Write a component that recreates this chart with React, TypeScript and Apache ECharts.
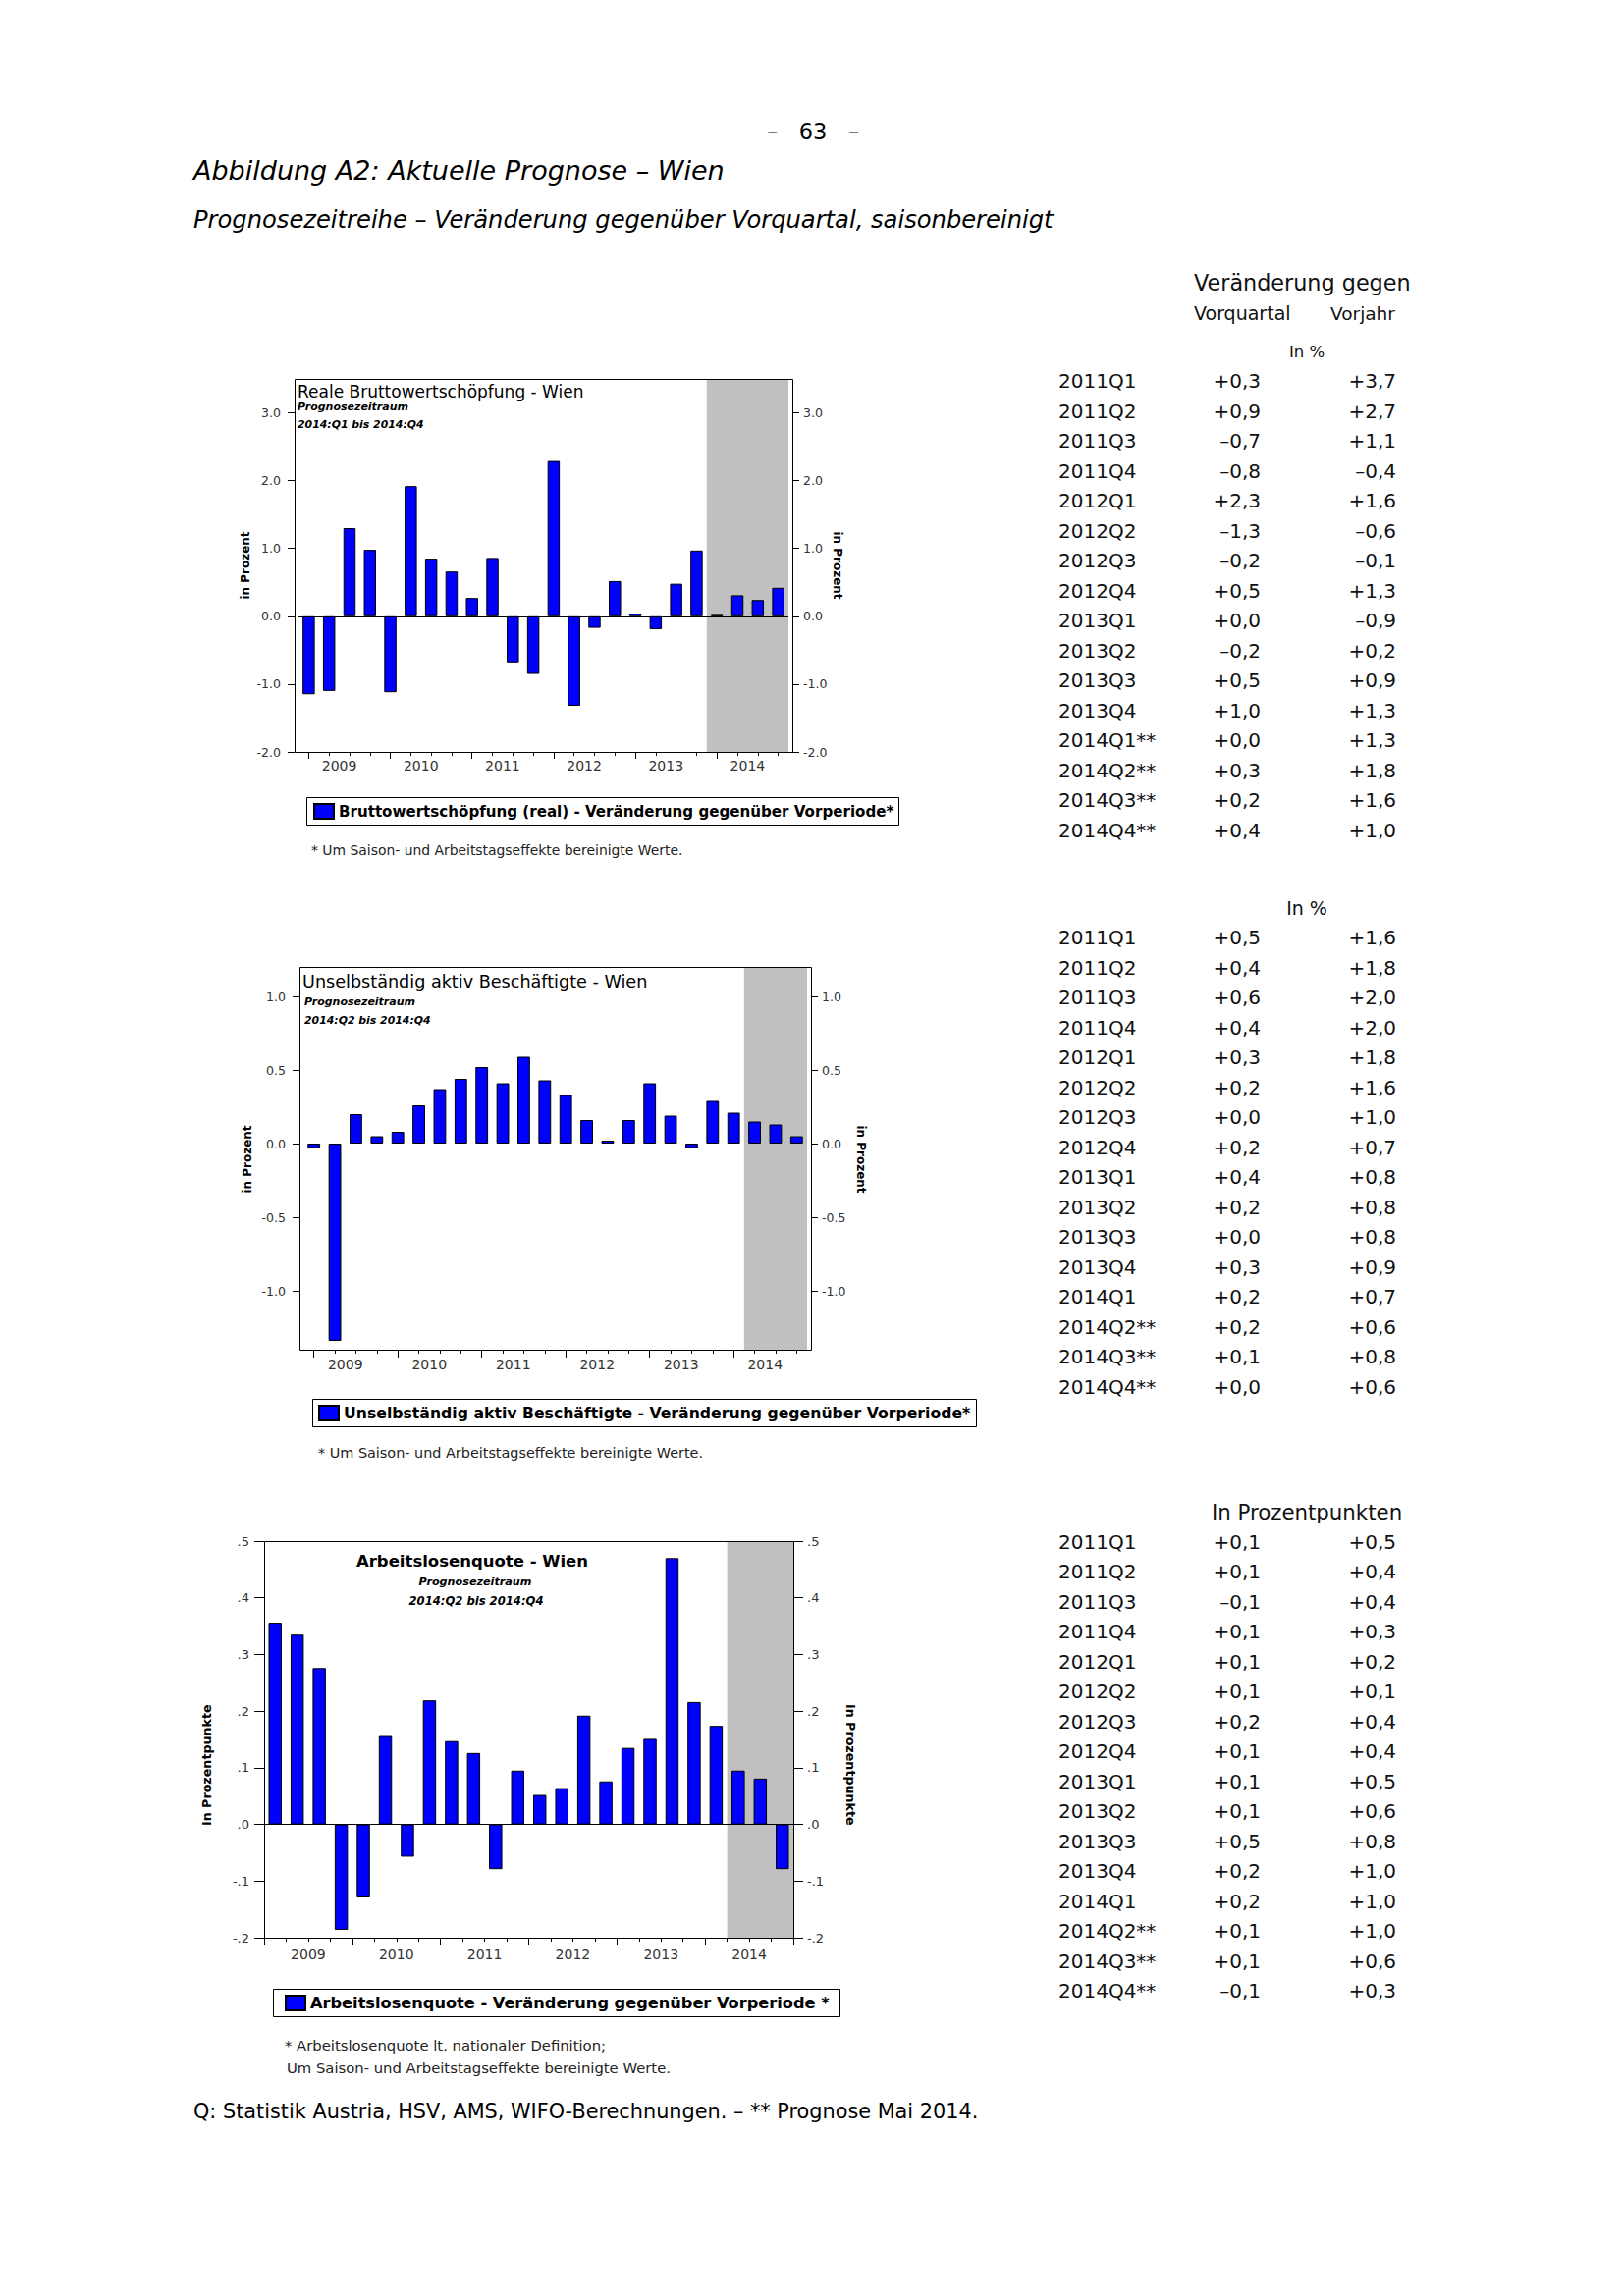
import React, { useEffect, useRef } from 'react';
import * as echarts from 'echarts';

// ---------- data ----------
const years = ['2009', '2010', '2011', '2012', '2013', '2014'];
const quarterSuffixes = ['Q1', 'Q2', 'Q3', 'Q4'];
const categories = years.flatMap((y) => quarterSuffixes.map((q) => y + q));

// Reale Bruttowertschöpfung - Veränderung gegenüber Vorperiode (%)
const bwsValues = [-1.15, -1.1, 1.3, 0.98, -1.12, 1.92, 0.85, 0.66, 0.27, 0.86, -0.68, -0.85, 2.29, -1.32, -0.17, 0.52, 0.04, -0.19, 0.48, 0.97, 0.02, 0.31, 0.24, 0.42];
// Unselbständig aktiv Beschäftigte - Veränderung gegenüber Vorperiode (%)
const empValues = [-0.03, -1.34, 0.2, 0.05, 0.08, 0.26, 0.37, 0.44, 0.52, 0.41, 0.59, 0.43, 0.33, 0.16, 0.02, 0.16, 0.41, 0.19, -0.03, 0.29, 0.21, 0.15, 0.13, 0.05];
// Arbeitslosenquote - Veränderung gegenüber Vorperiode (Prozentpunkte)
const alqValues = [0.356, 0.335, 0.276, -0.186, -0.129, 0.156, -0.057, 0.219, 0.147, 0.126, -0.079, 0.095, 0.052, 0.064, 0.192, 0.076, 0.135, 0.151, 0.47, 0.216, 0.174, 0.095, 0.081, -0.079];

const bwsForecastFrom = '2014Q1';
const empForecastFrom = '2014Q2';
const alqForecastFrom = '2014Q2';

const bwsYTicks = [-2, -1, 0, 1, 2, 3];
const empYTicks = [-1, -0.5, 0, 0.5, 1];
const alqYTicks = [-0.2, -0.1, 0, 0.1, 0.2, 0.3, 0.4, 0.5];

const bwsLegend = 'Bruttowertschöpfung (real) - Veränderung gegenüber Vorperiode*';
const empLegend = 'Unselbständig aktiv Beschäftigte - Veränderung gegenüber Vorperiode*';
const alqLegend = 'Arbeitslosenquote - Veränderung gegenüber Vorperiode *';

// tables
const tableRows1 = ['2011Q1', '2011Q2', '2011Q3', '2011Q4', '2012Q1', '2012Q2', '2012Q3', '2012Q4', '2013Q1', '2013Q2', '2013Q3', '2013Q4', '2014Q1**', '2014Q2**', '2014Q3**', '2014Q4**'];
const tableRows23 = ['2011Q1', '2011Q2', '2011Q3', '2011Q4', '2012Q1', '2012Q2', '2012Q3', '2012Q4', '2013Q1', '2013Q2', '2013Q3', '2013Q4', '2014Q1', '2014Q2**', '2014Q3**', '2014Q4**'];
const table1Vorquartal = [0.3, 0.9, -0.7, -0.8, 2.3, -1.3, -0.2, 0.5, 0.0, -0.2, 0.5, 1.0, 0.0, 0.3, 0.2, 0.4];
const table1Vorjahr = [3.7, 2.7, 1.1, -0.4, 1.6, -0.6, -0.1, 1.3, -0.9, 0.2, 0.9, 1.3, 1.3, 1.8, 1.6, 1.0];
const table2Vorquartal = [0.5, 0.4, 0.6, 0.4, 0.3, 0.2, 0.0, 0.2, 0.4, 0.2, 0.0, 0.3, 0.2, 0.2, 0.1, 0.0];
const table2Vorjahr = [1.6, 1.8, 2.0, 2.0, 1.8, 1.6, 1.0, 0.7, 0.8, 0.8, 0.8, 0.9, 0.7, 0.6, 0.8, 0.6];
const table3Vorquartal = [0.1, 0.1, -0.1, 0.1, 0.1, 0.1, 0.2, 0.1, 0.1, 0.1, 0.5, 0.2, 0.2, 0.1, 0.1, -0.1];
const table3Vorjahr = [0.5, 0.4, 0.4, 0.3, 0.2, 0.1, 0.4, 0.4, 0.5, 0.6, 0.8, 1.0, 1.0, 1.0, 0.6, 0.3];

// ---------- styling / layout ----------
const FONT = '"DejaVu Sans", "Noto Sans", sans-serif';
const BAR_BLUE = '#0000ff';
const SHADE = '#c0c0c0';

const fmtDec = (v: number) => v.toFixed(1);
const fmtNoLead = (v: number) => v.toFixed(1).replace(/^(-?)0\./, '$1.');
const fmtTable = (v: number) => (v < 0 ? '–' : '+') + Math.abs(v).toFixed(1).replace('.', ',');

const charts = [
  {
    name: bwsLegend, values: bwsValues, forecastFrom: bwsForecastFrom,
    yMin: -2, yMax: 3.5, yTicks: bwsYTicks, fmt: fmtDec,
    grid: { left: 304, top: 386, width: 499, height: 380 },
    frame: { x: 300, y: 386, w: 507, h: 380 }, offset: 4,
    ticksAtBoundary: false, minorLen: 4, majorLen: 7, yTickLen: 7,
    yLabelSize: 12.5, yMarginL: 14, yMarginR: 11, yearSize: 14, yearMargin: 7,
    zeroLine: true,
    legendBox: { x: 312, y: 812, w: 603, h: 28 }, legendPos: { left: 319, top: 818 }, legendSize: 15.1,
    axisName: 'in Prozent', axisNameSize: 12, axisNameL: [250, 576], axisNameR: [853, 576],
    titles: [
      { text: 'Reale Bruttowertschöpfung - Wien', x: 303, y: 399, size: 17, weight: 'normal', style: 'normal', align: 'left' },
      { text: 'Prognosezeitraum', x: 303, y: 414, size: 11, weight: 'bold', style: 'italic', align: 'left' },
      { text: '2014:Q1 bis 2014:Q4', x: 303, y: 432, size: 10.9, weight: 'bold', style: 'italic', align: 'left' },
    ],
    notes: [{ text: '* Um Saison- und Arbeitstagseffekte bereinigte Werte.', x: 317, y: 866, size: 13.9 }],
  },
  {
    name: empLegend, values: empValues, forecastFrom: empForecastFrom,
    yMin: -1.4, yMax: 1.2, yTicks: empYTicks, fmt: fmtDec,
    grid: { left: 309, top: 985, width: 513, height: 390 },
    frame: { x: 305, y: 985, w: 521, h: 390 }, offset: 4,
    ticksAtBoundary: false, minorLen: 4, majorLen: 8, yTickLen: 7,
    yLabelSize: 12.5, yMarginL: 14, yMarginR: 11, yearSize: 14, yearMargin: 8,
    zeroLine: false,
    legendBox: { x: 318, y: 1425, w: 676, h: 28 }, legendPos: { left: 324, top: 1431 }, legendSize: 15.7,
    axisName: 'in Prozent', axisNameSize: 12, axisNameL: [252, 1181], axisNameR: [877, 1181],
    titles: [
      { text: 'Unselbständig aktiv Beschäftigte - Wien', x: 308, y: 1000, size: 17.6, weight: 'normal', style: 'normal', align: 'left' },
      { text: 'Prognosezeitraum', x: 310, y: 1020, size: 11, weight: 'bold', style: 'italic', align: 'left' },
      { text: '2014:Q2 bis 2014:Q4', x: 310, y: 1039, size: 10.9, weight: 'bold', style: 'italic', align: 'left' },
    ],
    notes: [{ text: '* Um Saison- und Arbeitstagseffekte bereinigte Werte.', x: 324, y: 1480, size: 14.4 }],
  },
  {
    name: alqLegend, values: alqValues, forecastFrom: alqForecastFrom,
    yMin: -0.2, yMax: 0.5, yTicks: alqYTicks, fmt: fmtNoLead,
    grid: { left: 269, top: 1570, width: 539, height: 404 },
    frame: { x: 269, y: 1570, w: 539, h: 404 }, offset: 0,
    ticksAtBoundary: true, minorLen: 4, majorLen: 7, yTickLen: 10,
    yLabelSize: 13, yMarginL: 15, yMarginR: 14, yearSize: 14, yearMargin: 10,
    zeroLine: true,
    legendBox: { x: 278, y: 2026, w: 577, h: 28 }, legendPos: { left: 290, top: 2032 }, legendSize: 16.2,
    axisName: 'in Prozentpunkte', axisNameSize: 12.7, axisNameL: [210, 1798], axisNameR: [866, 1798],
    titles: [
      { text: 'Arbeitslosenquote - Wien', x: 481, y: 1590, size: 16.5, weight: 'bold', style: 'normal', align: 'center' },
      { text: 'Prognosezeitraum', x: 484, y: 1611, size: 11.2, weight: 'bold', style: 'italic', align: 'center' },
      { text: '2014:Q2 bis 2014:Q4', x: 485, y: 1631, size: 11.6, weight: 'bold', style: 'italic', align: 'center' },
    ],
    notes: [
      { text: '* Arbeitslosenquote lt. nationaler Definition;', x: 290, y: 2083, size: 14.8 },
      { text: 'Um Saison- und Arbeitstagseffekte bereinigte Werte.', x: 292, y: 2106, size: 14.8 },
    ],
  },
];

const tables = [
  { rows: tableRows1, vq: table1Vorquartal, vj: table1Vorjahr, firstY: 388,
    headers: [
      { text: 'Veränderung gegen', x: 1216, y: 288, size: 22.3, align: 'left' },
      { text: 'Vorquartal', x: 1216, y: 319, size: 19, align: 'left' },
      { text: 'Vorjahr', x: 1355, y: 319, size: 18.5, align: 'left' },
      { text: 'In %', x: 1331, y: 358, size: 16.5, align: 'center' },
    ] },
  { rows: tableRows23, vq: table2Vorquartal, vj: table2Vorjahr, firstY: 955,
    headers: [{ text: 'In %', x: 1331, y: 925, size: 19, align: 'center' }] },
  { rows: tableRows23, vq: table3Vorquartal, vj: table3Vorjahr, firstY: 1570.5,
    headers: [{ text: 'In Prozentpunkten', x: 1331, y: 1540, size: 21.3, align: 'center' }] },
];
const TABLE_ROW_STEP = 30.5;
const TABLE_COL_LABEL = 1078;
const TABLE_COL_VQ = 1284;
const TABLE_COL_VJ = 1422;
const TABLE_FONT_SIZE = 20;

function txt(text: string, x: number, y: number, size: number, opts: any = {}) {
  const align = opts.align || 'left';
  const vAlign = opts.vAlign || 'middle';
  return {
    type: 'text', x, y, rotation: opts.rotation || 0, silent: true, z: 50,
    style: {
      text, fontSize: size, fontFamily: FONT,
      fontWeight: opts.weight || 'normal', fontStyle: opts.style || 'normal',
      fill: opts.color || '#111',
      align, textAlign: align, verticalAlign: vAlign, textVerticalAlign: vAlign,
    },
  };
}

function buildOption() {
  const grid: any[] = [];
  const xAxis: any[] = [];
  const yAxis: any[] = [];
  const series: any[] = [];
  const legend: any[] = [];
  const graphic: any[] = [];
  const black = { color: '#000', width: 1 };

  charts.forEach((c, gi) => {
    grid.push({ left: c.grid.left, top: c.grid.top, width: c.grid.width, height: c.grid.height });
    const xBase = xAxis.length;
    const common = { gridIndex: gi, position: 'bottom', axisLine: { show: false, onZero: false }, splitLine: { show: false } };
    // quarter ticks (main category axis)
    xAxis.push({
      ...common, type: 'category', data: categories, boundaryGap: true,
      axisTick: { show: true, length: c.minorLen, interval: 0, alignWithLabel: !c.ticksAtBoundary, lineStyle: black },
      axisLabel: { show: false, interval: 0 },
    });
    // hidden index axis used for the forecast shading (category i sits at i)
    xAxis.push({ ...common, type: 'value', min: -0.5, max: categories.length - 0.5, show: false });
    if (!c.ticksAtBoundary) {
      xAxis.push({
        ...common, type: 'category', data: categories, boundaryGap: true,
        axisTick: { show: true, length: c.majorLen, alignWithLabel: true, interval: (i: number) => i % 4 === 0, lineStyle: black },
        axisLabel: { show: false },
      });
    }
    // year labels
    xAxis.push({
      ...common, type: 'category', data: years, boundaryGap: true,
      axisTick: { show: c.ticksAtBoundary, length: c.majorLen, interval: 0, lineStyle: black },
      axisLabel: { show: true, interval: 0, margin: c.yearMargin, fontSize: c.yearSize, fontFamily: FONT, color: '#333' },
    });

    const yBase = yAxis.length;
    (['left', 'right'] as const).forEach((pos) => {
      yAxis.push({
        gridIndex: gi, type: 'value', position: pos, min: c.yMin, max: c.yMax, offset: c.offset,
        axisLine: { show: false, onZero: false }, splitLine: { show: false },
        axisTick: { show: true, length: c.yTickLen, customValues: c.yTicks, lineStyle: black },
        axisLabel: {
          show: true, customValues: c.yTicks, formatter: c.fmt,
          margin: pos === 'left' ? c.yMarginL : c.yMarginR,
          fontSize: c.yLabelSize, fontFamily: FONT, color: '#333',
        },
      });
    });

    const fIdx = categories.indexOf(c.forecastFrom);
    series.push({
      type: 'line', xAxisIndex: xBase + 1, yAxisIndex: yBase, data: [], silent: true, z: 1,
      markArea: {
        silent: true,
        itemStyle: { color: SHADE, opacity: 1, borderWidth: 0 },
        label: { show: false },
        data: [[{ xAxis: fIdx - 0.5, yAxis: c.yMin }, { xAxis: categories.length - 0.5, yAxis: c.yMax }]],
      },
    });
    series.push({
      type: 'bar', name: c.name, xAxisIndex: xBase, yAxisIndex: yBase, data: c.values, barWidth: '60%',
      itemStyle: { color: BAR_BLUE, borderColor: '#000', borderWidth: 1 }, z: 3,
      markLine: c.zeroLine ? {
        silent: true, symbol: 'none', label: { show: false },
        lineStyle: { color: '#000', width: 1, type: 'solid' }, data: [{ yAxis: 0 }],
      } : undefined,
    });

    legend.push({
      data: [c.name], left: c.legendPos.left, top: c.legendPos.top, padding: 0,
      itemWidth: 20, itemHeight: 15, icon: 'rect', selectedMode: false,
      textStyle: { fontSize: c.legendSize, fontWeight: 'bold', fontFamily: FONT, color: '#000' },
    });

    graphic.push({
      type: 'rect', silent: true, z: 100,
      shape: { x: c.frame.x + 0.5, y: c.frame.y + 0.5, width: c.frame.w, height: c.frame.h },
      style: { fill: 'none', stroke: '#000', lineWidth: 1 },
    });
    graphic.push({
      type: 'rect', silent: true, z: 100,
      shape: { x: c.legendBox.x + 0.5, y: c.legendBox.y + 0.5, width: c.legendBox.w, height: c.legendBox.h },
      style: { fill: 'none', stroke: '#000', lineWidth: 1 },
    });
    c.titles.forEach((t) => graphic.push(txt(t.text, t.x, t.y, t.size, { weight: t.weight, style: t.style, align: t.align, color: '#000' })));
    graphic.push(txt(c.axisName, c.axisNameL[0], c.axisNameL[1], c.axisNameSize, { weight: 'bold', align: 'center', rotation: Math.PI / 2, color: '#000' }));
    graphic.push(txt(c.axisName, c.axisNameR[0], c.axisNameR[1], c.axisNameSize, { weight: 'bold', align: 'center', rotation: -Math.PI / 2, color: '#000' }));
    c.notes.forEach((n) => graphic.push(txt(n.text, n.x, n.y, n.size, { color: '#222' })));
  });

  // page header & source
  graphic.push(txt('–   63   –', 828, 134, 22.5, { align: 'center', color: '#000' }));
  graphic.push(txt('Abbildung A2: Aktuelle Prognose – Wien', 197, 173, 27, { style: 'italic', color: '#000' }));
  graphic.push(txt('Prognosezeitreihe – Veränderung gegenüber Vorquartal, saisonbereinigt', 197, 224, 24.2, { style: 'italic', color: '#000' }));
  graphic.push(txt('Q: Statistik Austria, HSV, AMS, WIFO-Berechnungen. – ** Prognose Mai 2014.', 197, 2151, 20.8, { color: '#000' }));

  // tables
  tables.forEach((t) => {
    t.headers.forEach((h) => graphic.push(txt(h.text, h.x, h.y, h.size, { align: h.align, color: '#111' })));
    t.rows.forEach((r, i) => {
      const y = t.firstY + i * TABLE_ROW_STEP;
      graphic.push(txt(r, TABLE_COL_LABEL, y, TABLE_FONT_SIZE, { color: '#111' }));
      graphic.push(txt(fmtTable(t.vq[i]), TABLE_COL_VQ, y, TABLE_FONT_SIZE, { align: 'right', color: '#111' }));
      graphic.push(txt(fmtTable(t.vj[i]), TABLE_COL_VJ, y, TABLE_FONT_SIZE, { align: 'right', color: '#111' }));
    });
  });

  return {
    animation: false,
    backgroundColor: '#ffffff',
    textStyle: { fontFamily: FONT },
    grid, xAxis, yAxis, series, legend, graphic,
  };
}

export default function App() {
  const ref = useRef<HTMLDivElement>(null);
  useEffect(() => {
    if (!ref.current) return;
    const chart = echarts.init(ref.current, undefined, { renderer: 'svg' });
    chart.setOption(buildOption() as any);
    return () => chart.dispose();
  }, []);
  return (
    <div
      ref={ref}
      style={{ position: 'absolute', left: 0, top: 0, width: 1653, height: 2339, background: '#fff' }}
    />
  );
}
